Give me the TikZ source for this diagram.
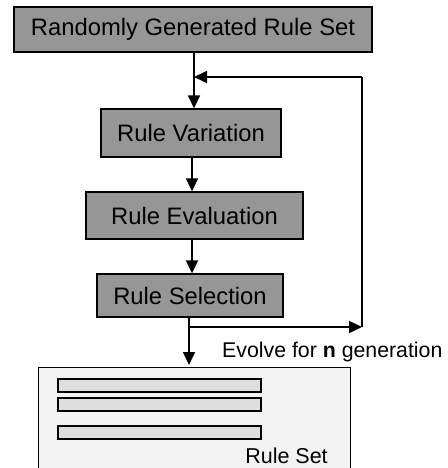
\documentclass[tikz,border=0pt]{standalone}
\usepackage{fontspec}
\setmainfont{Liberation Sans}
\usetikzlibrary{arrows.meta}

\definecolor{stepgray}{RGB}{150,150,150}
\definecolor{setgray}{RGB}{243,243,243}
\definecolor{bargray}{RGB}{222,222,222}

\tikzset{
    stage/.style={draw, line width=1.3pt, fill=stepgray, inner sep=0pt,
        font=\fontsize{23.8}{28}\selectfont},
    rulebar/.style={draw, line width=1.3pt, fill=bargray, inner sep=0pt,
        minimum width=203pt, minimum height=13pt},
    flow/.style={line width=1.6pt, -{Triangle[length=13pt,width=12pt]}},
}

\begin{document}
\begin{tikzpicture}[x=1pt, y=-1pt]
    \useasboundingbox (0,0) rectangle (447,468);

    % the steps of the loop
    \node[stage, minimum width=358pt, minimum height=45pt] (gen) at (193,29.5) {Randomly Generated Rule Set};
    \node[stage, minimum width=180pt, minimum height=48pt] (var) at (191,133) {Rule Variation};
    \node[stage, minimum width=217pt, minimum height=47pt] (eval) at (194.5,215.5) {Rule Evaluation};
    \node[stage, minimum width=186pt, minimum height=43pt] (sel) at (190,295.5) {Rule Selection};

    % resulting rule set (runs off the bottom)
    \node[draw, line width=1.3pt, fill=setgray, minimum width=312pt, minimum height=120pt,
        inner sep=0pt, anchor=north west] (set) at (38,367) {};
    \node[rulebar] (bar1) at (159.5,385.5) {};
    \node[rulebar] (bar2) at (159.5,404.5) {};
    \node[rulebar] (bar3) at (159.5,432.5) {};
    \node[font=\fontsize{21.5}{25}\selectfont] (setlabel) at (286.5,456) {Rule Set};

    % loop corners
    \coordinate (join) at (194,77);
    \coordinate (loopin) at (362,77);
    \coordinate (split) at (189,327);
    \coordinate (loopout) at (362,327);
    \coordinate (down) at (192,0);
    \coordinate (settop) at (189,365);

    \draw[line width=1.6pt] (gen.south -| join) -- (join);
    \draw[flow] (join) -- (var.north -| join);
    \draw[flow] (var.south -| down) -- (eval.north -| down);
    \draw[flow] (eval.south -| down) -- (sel.north -| down);
    \draw[flow] (sel.south -| split) -- (settop);
    \draw[flow] (split) -- (loopout);
    \draw[line width=1.2pt] (loopout) -- (loopin);
    \draw[flow] (loopin) -- (join);

    \node[anchor=west, inner sep=0pt, font=\fontsize{21.3}{25}\selectfont] (evolve) at (222,352) {Evolve for \textbf{n} generation};
\end{tikzpicture}
\end{document}
